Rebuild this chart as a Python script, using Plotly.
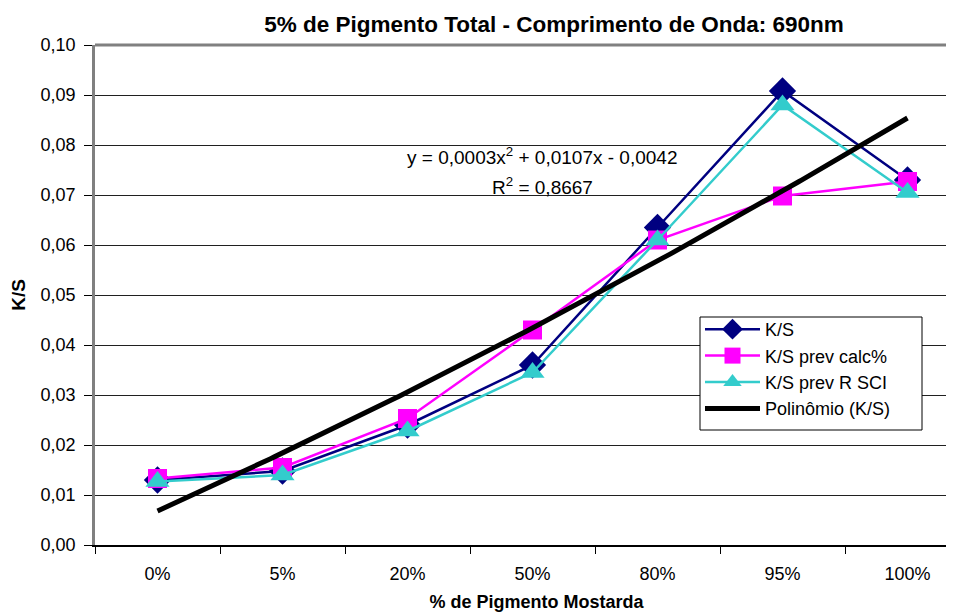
import numpy as np
import plotly.graph_objects as go

categories = ["0%", "5%", "20%", "50%", "80%", "95%", "100%"]
ks = [0.0130, 0.0148, 0.0240, 0.0360, 0.0635, 0.0908, 0.0730]
ks_prev_calc = [0.0133, 0.0155, 0.0253, 0.0430, 0.0610, 0.0698, 0.0727]
ks_prev_rsci = [0.0127, 0.0140, 0.0228, 0.0345, 0.0610, 0.0880, 0.0705]
trend_coef = [0.0003, 0.0107, -0.0042]  # as shown in chart equation
y_ticks = [i / 100 for i in range(0, 11)]
y_tick_labels = ["0,00", "0,01", "0,02", "0,03", "0,04", "0,05", "0,06", "0,07", "0,08", "0,09", "0,10"]

FONT = "Arial, Liberation Sans, sans-serif"
xi = list(range(len(categories)))

# polynomial trendline (Excel x = 1..n)
xt = np.linspace(0, len(categories) - 1, 200)
yt = np.polyval(trend_coef, xt + 1)

# page body has an 8px margin; plot area runs past the right window edge (as in the reference)
W, H = 970, 604
L = 87
CAT_PX = 125.0

fig = go.Figure()
fig.add_trace(go.Scatter(x=xi, y=ks, name="K/S", mode="lines+markers",
                         line=dict(color="#000080", width=2.5),
                         marker=dict(symbol="diamond", size=21, color="#000080")))
fig.add_trace(go.Scatter(x=xi, y=ks_prev_calc, name="K/S prev calc%", mode="lines+markers",
                         line=dict(color="#FF00FF", width=2.5),
                         marker=dict(symbol="square", size=19, color="#FF00FF")))
fig.add_trace(go.Scatter(x=xi, y=ks_prev_rsci, name="K/S prev R SCI", mode="lines+markers",
                         line=dict(color="#33CCCC", width=2.5),
                         marker=dict(symbol="triangle-up", size=21, color="#33CCCC")))
fig.add_trace(go.Scatter(x=xt, y=yt, name="Polinômio (K/S)", mode="lines",
                         line=dict(color="#000000", width=5)))

fig.update_layout(
    width=W, height=H,
    margin=dict(l=L, r=0, t=37, b=67, pad=0),
    paper_bgcolor="white", plot_bgcolor="white",
    font=dict(family=FONT, size=18, color="black"),
    title=dict(text="<b>5% de Pigmento Total - Comprimento de Onda: 690nm</b>",
               x=546 / W, xanchor="center", y=1 - 16 / H, yanchor="middle",
               font=dict(size=22.5, family=FONT)),
    showlegend=True,
    legend=dict(x=(700 - 95) / (W - L), y=0.468, xanchor="left", yanchor="top",
                bgcolor="rgba(0,0,0,0)", borderwidth=0,
                font=dict(size=18, family=FONT), itemwidth=55, tracegroupgap=0),
    xaxis=dict(
        range=[-0.5, -0.5 + (W - L) / CAT_PX], tickmode="array", tickvals=xi, ticktext=categories,
        ticks="", showgrid=False, zeroline=False,
        showline=True, linecolor="black", linewidth=1.5,
        tickfont=dict(size=18), ticklabelstandoff=12,
        minor=dict(ticks="outside", tickmode="array", tickvals=[i + 0.5 for i in range(-1, 7)],
                   ticklen=7, tickcolor="black", showgrid=False),
        title=dict(text="<b>% de Pigmento Mostarda</b>", font=dict(size=18), standoff=12),
    ),
    yaxis=dict(
        range=[0, 0.1], tickmode="array", tickvals=y_ticks, ticktext=y_tick_labels,
        ticks="outside", ticklen=8, tickcolor="black",
        showgrid=True, gridcolor="#202020", gridwidth=1, zeroline=False,
        showline=True, linecolor="#808080", linewidth=2.5,
        tickfont=dict(size=18), ticklabelstandoff=5,
        title=dict(text="<b>K/S</b>", font=dict(size=19), standoff=10),
    ),
)

# top border of plot area
fig.add_shape(type="line", xref="paper", yref="paper", x0=0, x1=1, y0=1, y1=1,
              line=dict(color="#808080", width=3))
# legend frame (white box with black border)
fig.add_shape(type="rect", xref="x", yref="y", x0=4.34, x1=6.116, y0=0.0230, y1=0.0456,
              fillcolor="white", line=dict(color="black", width=1), layer="above")

fig.add_annotation(x=3.076, y=0.0778, xref="x", yref="y", showarrow=False,
                   text="y = 0,0003x<sup>2</sup> + 0,0107x - 0,0042", font=dict(size=19))
fig.add_annotation(x=3.076, y=0.0719, xref="x", yref="y", showarrow=False,
                   text="R<sup>2</sup> = 0,8667", font=dict(size=19))

fig.write_html("out.html", config={"displayModeBar": False})
